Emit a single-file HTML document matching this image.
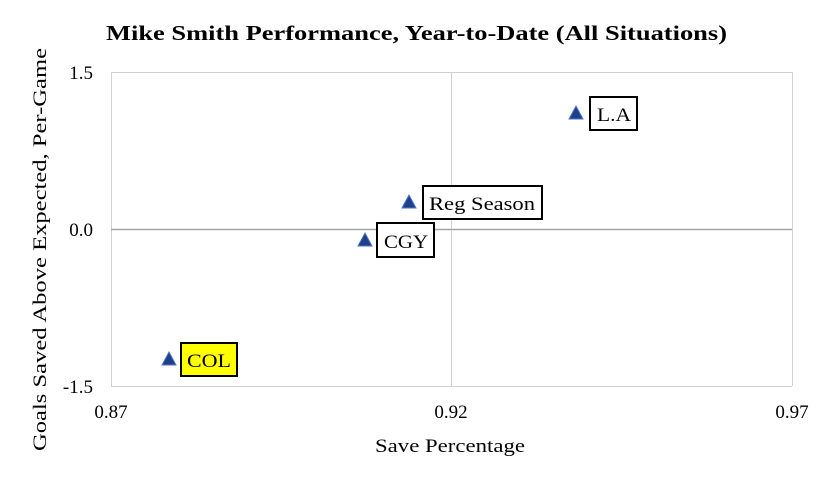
<!DOCTYPE html>
<html><head><style>body{margin:0;background:#fff}</style></head><body>
<svg width="833" height="484" xmlns="http://www.w3.org/2000/svg" font-family="'Liberation Serif', serif">
<rect width="833" height="484" fill="#fff"/>
<text x="106" y="40" font-size="21" font-weight="bold" textLength="621" lengthAdjust="spacingAndGlyphs">Mike Smith Performance, Year-to-Date (All Situations)</text>
<g stroke="#d0d0d0" stroke-width="1">
<line x1="111" y1="72.5" x2="792" y2="72.5"/>
<line x1="111" y1="386.5" x2="792" y2="386.5"/>
<line x1="111.5" y1="72" x2="111.5" y2="386"/>
<line x1="451.5" y1="72" x2="451.5" y2="386"/>
<line x1="792.5" y1="72" x2="792.5" y2="386"/>
</g>
<line x1="111" y1="229.5" x2="792" y2="229.5" stroke="#a6a6a6" stroke-width="1.5"/>
<g font-size="19" fill="#000">
<text x="93" y="79" text-anchor="end">1.5</text>
<text x="93" y="236" text-anchor="end">0.0</text>
<text x="93" y="393" text-anchor="end">-1.5</text>
<text x="111" y="418" text-anchor="middle">0.87</text>
<text x="451" y="418" text-anchor="middle">0.92</text>
<text x="792" y="418" text-anchor="middle">0.97</text>
<text x="375" y="452" textLength="150" lengthAdjust="spacingAndGlyphs">Save Percentage</text>
<text transform="translate(46,451) rotate(-90)" textLength="403" lengthAdjust="spacingAndGlyphs">Goals Saved Above Expected, Per-Game</text>
</g>
<g fill="#1f3f8a" stroke="#4a76c8" stroke-width="1">
<polygon points="576,106 583,119 569,119"/>
<polygon points="409,195 416,208 402,208"/>
<polygon points="365,233 372,246 358,246"/>
<polygon points="169,352 176,365 162,365"/>
</g>
<g stroke="#000" stroke-width="2">
<rect x="590" y="97" width="47" height="33" fill="#fff"/>
<rect x="423" y="186" width="119" height="33" fill="#fff"/>
<rect x="377" y="223" width="57" height="34" fill="#fff"/>
<rect x="181" y="343" width="56" height="33" fill="#ffff00"/>
</g>
<g font-size="19" fill="#000" stroke="none">
<text x="597" y="121" textLength="34" lengthAdjust="spacingAndGlyphs">L.A</text>
<text x="429" y="210" textLength="106" lengthAdjust="spacingAndGlyphs">Reg Season</text>
<text x="384" y="248" textLength="44" lengthAdjust="spacingAndGlyphs">CGY</text>
<text x="187" y="367" textLength="44" lengthAdjust="spacingAndGlyphs">COL</text>
</g>
</svg>
</body></html>
